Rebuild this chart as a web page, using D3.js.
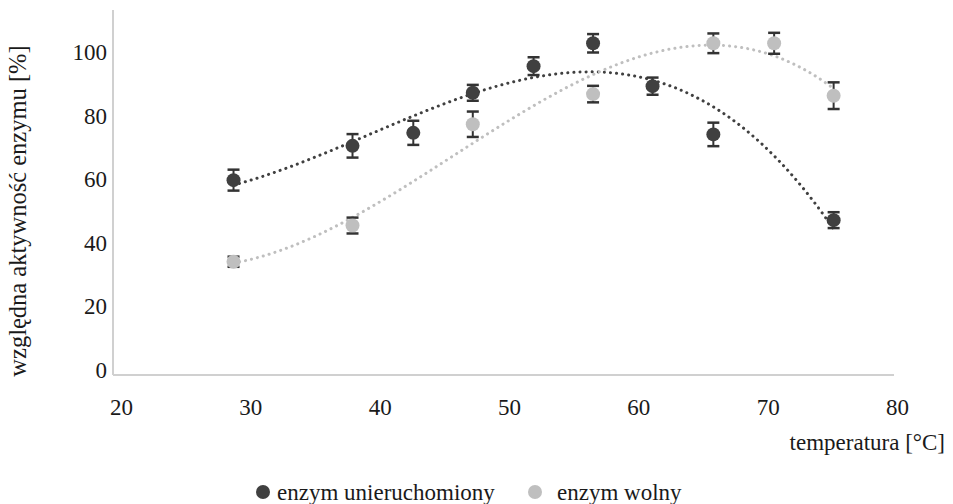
<!DOCTYPE html>
<html><head><meta charset="utf-8">
<script src="https://cdn.jsdelivr.net/npm/d3@7"></script>
<style>
body{margin:0;background:#fff;}
svg text{font-family:"Liberation Serif","Times New Roman",serif !important;fill:#1a1a1a;}
</style></head>
<body><svg id="c" width="953" height="504"></svg>
<script>
const temps = [28.7, 37.9, 42.6, 47.2, 51.9, 56.5, 61.1, 65.8, 70.5, 75.1];
const immobilized = [59.8, 70.6, 74.7, 87.3, 95.7, 102.9, 89.4, 74.2, null, 47.2];
const immobilizedErr = [3.3, 3.7, 3.8, 2.5, 2.8, 2.9, 2.7, 3.7, null, 2.5];
const freeEnz = [34.1, 45.5, null, 77.4, null, 86.9, null, 102.9, 102.9, 86.4];
const freeErr = [1.6, 2.5, null, 4.0, null, 2.6, null, 3.1, 3.3, 4.2];
const xTicks = [20, 30, 40, 50, 60, 70, 80];
const yTicks = [0, 20, 40, 60, 80, 100];
const seriesNames = ["enzym unieruchomiony", "enzym wolny"];
const seriesColors = ["#404040", "#bfbfbf"];

const FONT = "'Liberation Serif', 'Times New Roman', serif";
const svg = d3.select("#c");
const x = d3.scaleLinear().domain([20, 80]).range([121, 897]);
const y = d3.scaleLinear().domain([0, 100]).range([370, 52.5]);

const axisX0 = x(20) - 8, axisY0 = y(0) + 5;
svg.append("line").attr("x1", axisX0).attr("x2", axisX0).attr("y1", 10).attr("y2", axisY0)
  .attr("stroke", "#d0d0d0").attr("stroke-width", 2);
svg.append("line").attr("x1", axisX0).attr("x2", x(80) - 3).attr("y1", axisY0).attr("y2", axisY0)
  .attr("stroke", "#d0d0d0").attr("stroke-width", 2);

const gx = svg.append("g").attr("transform", `translate(0,${axisY0})`)
  .call(d3.axisBottom(x).tickValues(xTicks).tickFormat(d3.format("d")).tickSize(0).tickPadding(24));
gx.attr("font-family", null).attr("font-size", null);
gx.select(".domain").remove();
gx.selectAll("text").style("font-size", "23px").style("font-family", FONT).attr("fill", "#1a1a1a");

const gy = svg.append("g").attr("transform", `translate(${axisX0},0)`)
  .call(d3.axisLeft(y).tickValues(yTicks).tickFormat(d3.format("d")).tickSize(0).tickPadding(6));
gy.attr("font-family", null).attr("font-size", null);
gy.select(".domain").remove();
gy.selectAll("text").style("font-size", "23px").style("font-family", FONT).attr("fill", "#1a1a1a");

svg.append("text").attr("transform", "translate(26,211) rotate(-90)").attr("text-anchor", "middle")
  .style("font-size", "24.5px").style("font-family", FONT).text("względna aktywność enzymu [%]");
svg.append("text").attr("x", 945).attr("y", 450).attr("text-anchor", "end")
  .style("font-size", "23px").style("font-family", FONT).text("temperatura [°C]");

function polyfit(xs, ys, order) {
  const n = order + 1;
  const A = Array.from({length: n}, () => new Array(n + 1).fill(0));
  xs.forEach((xv, k) => {
    for (let i = 0; i < n; i++) {
      for (let j = 0; j < n; j++) A[i][j] += Math.pow(xv, i + j);
      A[i][n] += ys[k] * Math.pow(xv, i);
    }
  });
  for (let i = 0; i < n; i++) {
    let p = i;
    for (let r = i + 1; r < n; r++) if (Math.abs(A[r][i]) > Math.abs(A[p][i])) p = r;
    [A[i], A[p]] = [A[p], A[i]];
    for (let r = 0; r < n; r++) {
      if (r === i) continue;
      const f = A[r][i] / A[i][i];
      for (let c = i; c <= n; c++) A[r][c] -= f * A[i][c];
    }
  }
  return A.map((row, i) => row[n] / row[i]);
}

const series = [
  {vals: immobilized, errs: immobilizedErr, color: seriesColors[0]},
  {vals: freeEnz, errs: freeErr, color: seriesColors[1]}
];

series.forEach(s => {
  const pts = temps.map((t, i) => ({t, v: s.vals[i], e: s.errs[i]})).filter(d => d.v != null);
  const coef = polyfit(pts.map(d => d.t), pts.map(d => d.v), 3);
  const f = t => coef.reduce((acc, c, i) => acc + c * Math.pow(t, i), 0);
  const t0 = d3.min(pts, d => d.t), t1 = d3.max(pts, d => d.t);
  const samples = d3.range(0, 101).map(k => t0 + (t1 - t0) * k / 100);
  svg.append("path").datum(samples)
    .attr("d", d3.line().x(t => x(t)).y(t => y(f(t))))
    .attr("fill", "none").attr("stroke", s.color).attr("stroke-width", 3)
    .attr("stroke-linecap", "round").attr("stroke-dasharray", "0.1 6");
  s.pts = pts;
});

series.forEach(s => {
  const g = svg.append("g");
  s.pts.forEach(d => {
    g.append("line").attr("x1", x(d.t)).attr("x2", x(d.t)).attr("y1", y(d.v - d.e)).attr("y2", y(d.v + d.e))
      .attr("stroke", "#333").attr("stroke-width", 2);
    [d.v - d.e, d.v + d.e].forEach(v => g.append("line").attr("x1", x(d.t) - 6).attr("x2", x(d.t) + 6)
      .attr("y1", y(v)).attr("y2", y(v)).attr("stroke", "#333").attr("stroke-width", 2.5));
  });
  g.selectAll("circle").data(s.pts).join("circle")
    .attr("cx", d => x(d.t)).attr("cy", d => y(d.v)).attr("r", 7).attr("fill", s.color);
});

const legendX = [263, 535], legendTextX = [277, 557];
seriesNames.forEach((name, i) => {
  svg.append("circle").attr("cx", legendX[i]).attr("cy", 492).attr("r", 7).attr("fill", seriesColors[i]);
  svg.append("text").attr("x", legendTextX[i]).attr("y", 500)
    .style("font-size", "23px").style("font-family", FONT).text(name);
});
</script></body></html>
